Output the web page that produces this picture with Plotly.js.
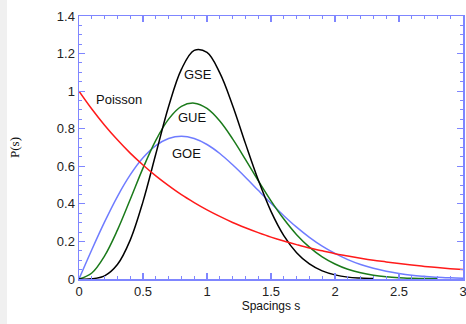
<!DOCTYPE html>
<html>
<head>
<meta charset="utf-8">
<script src="https://cdn.plot.ly/plotly-3.0.1.min.js"></script>
<style>
  html, body { margin: 0; padding: 0; background: #ffffff; overflow: hidden; }
  #strip { position: absolute; left: 0; top: 0; width: 7px; height: 324px; background: #f0f0f0; }
  #chart { position: absolute; left: 7px; top: 0; width: 459px; height: 324px; }
</style>
</head>
<body>
<div id="strip"></div>
<div id="chart"></div>
<script>
// Spacing values s
const s = [0,0.1,0.2,0.3,0.4,0.5,0.6,0.7,0.8,0.9,1.0,1.1,1.2,1.3,1.4,1.5,1.6,1.7,1.8,1.9,2.0,2.1,2.2,2.3,2.4,2.5,2.6,2.7,2.8,2.9,3.0];

const poisson = [1,0.905,0.819,0.741,0.670,0.607,0.549,0.497,0.449,0.407,0.368,0.333,0.301,0.273,0.247,0.223,0.202,0.183,0.165,0.150,0.135,0.123,0.111,0.100,0.091,0.082,0.074,0.067,0.061,0.055,0.050];

const goe = [0,0.156,0.304,0.439,0.554,0.645,0.710,0.748,0.760,0.748,0.716,0.668,0.608,0.542,0.472,0.403,0.337,0.276,0.222,0.175,0.136,0.103,0.077,0.057,0.041,0.029,0.020,0.014,0.009,0.006,0.004];

const sGue = s.slice(0, 29);
const gue = [0,0.032,0.123,0.260,0.423,0.590,0.738,0.851,0.919,0.936,0.908,0.841,0.746,0.637,0.524,0.416,0.319,0.236,0.170,0.118,0.080,0.052,0.033,0.020,0.012,0.007,0.004,0.002,0.001];

const sGse = s.slice(0, 24);
const gse = [0,0.001,0.017,0.077,0.207,0.412,0.665,0.918,1.116,1.217,1.206,1.097,0.924,0.722,0.528,0.360,0.231,0.140,0.080,0.043,0.022,0.010,0.005,0.002];

const xTicks = [0,0.5,1,1.5,2,2.5,3];
const xTickText = ["0","0.5","1","1.5","2","2.5","3"];
const yTicks = [0,0.2,0.4,0.6,0.8,1,1.2,1.4];
const yTickText = ["0","0.2","0.4","0.6","0.8","1","1.2","1.4"];

const labels = ["Poisson","GSE","GUE","GOE"];
const labelX = [0.31,0.93,0.89,0.84];
const labelY = [0.955,1.087,0.86,0.668];

const lineStyle = (c) => ({color: c, width: 1.5, shape: 'spline', smoothing: 1});

const traces = [
  {x: s, y: goe, mode: 'lines', line: lineStyle('#6f7cff'), hoverinfo: 'skip'},
  {x: sGue, y: gue, mode: 'lines', line: lineStyle('#1a7a1a'), hoverinfo: 'skip'},
  {x: sGse, y: gse, mode: 'lines', line: lineStyle('#000000'), hoverinfo: 'skip'},
  {x: s, y: poisson, mode: 'lines', line: lineStyle('#ff1a1a'), hoverinfo: 'skip'}
];

const axisColor = '#7f86ff';
const tickFont = {family: 'Liberation Sans, Arial, sans-serif', size: 13, color: '#222222'};

const layout = {
  width: 459, height: 324,
  margin: {l: 72, r: 3, t: 16, b: 45},
  paper_bgcolor: '#ffffff', plot_bgcolor: '#ffffff',
  showlegend: false,
  xaxis: {
    range: [0, 3], tickmode: 'array', tickvals: xTicks, ticktext: xTickText,
    ticklabeloverflow: 'allow',
    showgrid: false, zeroline: false, showline: true, linecolor: axisColor, linewidth: 1.5,
    mirror: 'allticks', ticks: 'inside', ticklen: 6, tickwidth: 1.2, tickcolor: axisColor,
    minor: {dtick: 0.1, ticks: 'inside', ticklen: 3, tickwidth: 1, tickcolor: axisColor, showgrid: false},
    tickfont: tickFont,
    title: {text: 'Spacings s', font: {family: 'Liberation Sans, Arial, sans-serif', size: 12, color: '#111111'}, standoff: 1}
  },
  yaxis: {
    range: [0, 1.4], tickmode: 'array', tickvals: yTicks, ticktext: yTickText,
    showgrid: false, zeroline: false, showline: true, linecolor: axisColor, linewidth: 1.5,
    mirror: 'allticks', ticks: 'inside', ticklen: 6, tickwidth: 1.2, tickcolor: axisColor,
    minor: {dtick: 0.05, ticks: 'inside', ticklen: 3, tickwidth: 1, tickcolor: axisColor, showgrid: false},
    tickfont: tickFont,
    title: {text: 'P(s)', font: {family: 'Liberation Serif, Times New Roman, serif', size: 13, color: '#111111'}, standoff: 39}
  },
  annotations: labels.map((t, i) => ({
    x: labelX[i], y: labelY[i], xref: 'x', yref: 'y', text: t, showarrow: false,
    font: {family: 'Liberation Sans, Arial, sans-serif', size: 13, color: '#111111'}
  }))
};

Plotly.newPlot('chart', traces, layout, {displayModeBar: false, staticPlot: true});
</script>
</body>
</html>
